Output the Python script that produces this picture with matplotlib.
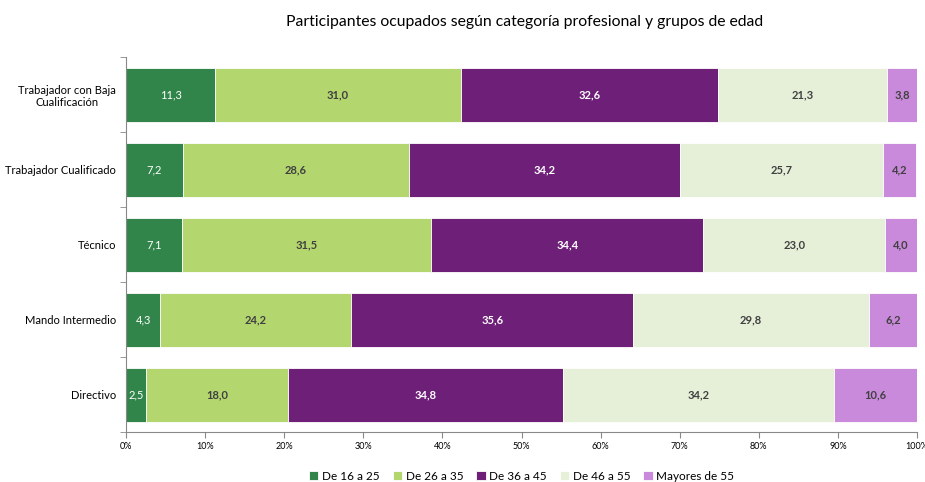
import numpy as np
import matplotlib.pyplot as plt
from matplotlib.ticker import FixedLocator, PercentFormatter

plt.rcParams['font.family'] = ['Lato', 'DejaVu Sans']

categories = ['Trabajador con Baja\nCualificación', 'Trabajador Cualificado',
              'Técnico', 'Mando Intermedio', 'Directivo']
series = ['De 16 a 25', 'De 26 a 35', 'De 36 a 45', 'De 46 a 55', 'Mayores de 55']
de_16_25 = [11.3, 7.2, 7.1, 4.3, 2.5]
de_26_35 = [31.0, 28.6, 31.5, 24.2, 18.0]
de_36_45 = [32.6, 34.2, 34.4, 35.6, 34.8]
de_46_55 = [21.3, 25.7, 23.0, 29.8, 34.2]
mayores_55 = [3.8, 4.2, 4.0, 6.2, 10.6]

colors = ['#31854A', '#B3D66E', '#6E1F78', '#E6EFD8', '#C98ADB']
text_colors = ['white', '#404040', 'white', '#404040', '#404040']
text_weights = ['normal', 'bold', 'bold', 'bold', 'bold']

fig = plt.figure(figsize=(9.25, 4.82), dpi=100)
ax = fig.add_axes([126/925, 1-432/482, (917-126)/925, (432-57)/482])

y = np.arange(len(categories))[::-1]
left = np.zeros(len(categories))
for name, vals, c, tc, tw in zip(series, [de_16_25, de_26_35, de_36_45, de_46_55, mayores_55],
                                 colors, text_colors, text_weights):
    vals = np.array(vals)
    ax.barh(y, vals, left=left, height=0.72, color=c, edgecolor='white', linewidth=0.6, label=name)
    for yi, l, v in zip(y, left, vals):
        ax.text(l + v/2, yi, f'{v:.1f}'.replace('.', ','), ha='center', va='center',
                fontsize=8, color=tc, fontweight=tw)
    left += vals

ax.set_xlim(0, 100)
ax.set_ylim(-0.5, len(categories) - 0.5)
ax.tick_params(axis='y', length=0, pad=7)
ax.yaxis.set_minor_locator(FixedLocator(np.arange(-0.5, len(categories), 1)))
ax.tick_params(axis='y', which='minor', length=4, color='#888888')
ax.set_xticks(np.arange(0, 101, 10))
ax.xaxis.set_major_formatter(PercentFormatter(decimals=0))
ax.tick_params(axis='x', labelsize=6.5, length=4, color='#888888')
for s in ['top', 'right']:
    ax.spines[s].set_visible(False)
for s in ['left', 'bottom']:
    ax.spines[s].set_color('#888888')

ax.set_yticks(y)
ax.set_yticklabels(categories, fontsize=8)
for t in ax.get_yticklabels():
    t.set_multialignment('center')

fig.text(0.567, 1-22/482, 'Participantes ocupados según categoría profesional y grupos de edad',
         ha='center', va='center', fontsize=11.3)

fig.legend(loc='center', bbox_to_anchor=(0.564, 1-476/482), ncol=5, frameon=False,
           fontsize=8.5, handlelength=0.8, handleheight=0.8, handletextpad=0.3, columnspacing=1.1)

fig.savefig('out.png', dpi=100)
